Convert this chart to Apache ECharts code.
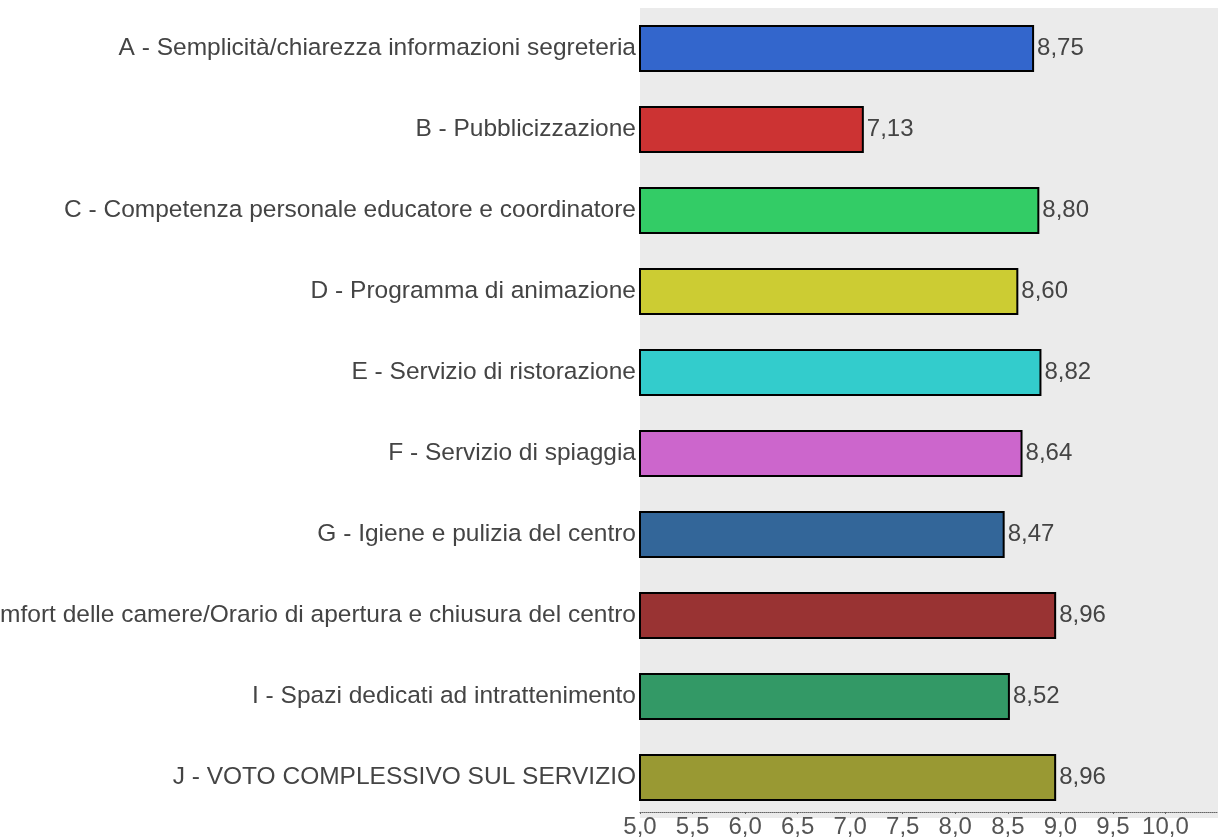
<!DOCTYPE html>
<html lang="it" style="height: 100%">
<head>
  <meta charset="utf-8">
</head>
<body style="height: 100%; margin: 0; background: #fff">
  <div id="container" style="width: 1218px; height: 840px"></div>

  <script type="text/javascript" src="https://cdn.jsdelivr.net/npm/echarts@6/dist/echarts.min.js"></script>
  <script type="text/javascript">
    // dati
    var categories = [
      'A - Semplicità/chiarezza informazioni segreteria',
      'B - Pubblicizzazione',
      'C - Competenza personale educatore e coordinatore',
      'D - Programma di animazione',
      'E - Servizio di ristorazione',
      'F - Servizio di spiaggia',
      'G - Igiene e pulizia del centro',
      'H - Comfort delle camere/Orario di apertura e chiusura del centro',
      'I - Spazi dedicati ad intrattenimento',
      'J - VOTO COMPLESSIVO SUL SERVIZIO'
    ];
    var values = [8.75, 7.13, 8.80, 8.60, 8.82, 8.64, 8.47, 8.96, 8.52, 8.96];
    var colors = ['#3366cc', '#cc3333', '#33cc66', '#cccc33', '#33cccc',
                  '#cc66cc', '#336699', '#993333', '#339966', '#999933'];

    var dom = document.getElementById('container');
    var myChart = echarts.init(dom, null, { renderer: 'canvas' });

    var option = {
      animation: false,
      textStyle: { fontFamily: 'Liberation Sans, Arial, sans-serif' },
      grid: {
        left: 640,
        right: 0,
        top: 8,
        bottom: 22,
        containLabel: false,
        outerBoundsMode: 'none',   // la label H esce a sinistra, come nell'originale
        show: true,
        backgroundColor: '#ebebeb',
        borderWidth: 0
      },
      xAxis: {
        type: 'value',
        min: 5,
        max: 10.5,
        interval: 0.5,
        offset: -6,
        axisLine: { show: true, lineStyle: { color: '#666', type: 'dotted', width: 1 } },
        axisTick: { show: true, length: 2, lineStyle: { color: '#666' } },
        splitLine: { show: false },
        axisLabel: {
          color: '#555',
          fontSize: 24,
          margin: 3,
          formatter: function (v) {
            if (v > 10.01) return '';
            return v.toFixed(1).replace('.', ',');
          }
        }
      },
      yAxis: {
        type: 'category',
        inverse: true,
        data: categories,
        axisLine: { show: false },
        axisTick: { show: false },
        axisLabel: { color: '#444', fontSize: 24.5, margin: 4 }
      },
      series: [
        {
          type: 'bar',
          barCategoryGap: '42%',
          data: values.map(function (v, i) {
            return { value: v, itemStyle: { color: colors[i] } };
          }),
          itemStyle: { borderColor: '#000', borderWidth: 2 },
          label: {
            show: true,
            position: 'right',
            distance: 3,
            color: '#444',
            fontSize: 24,
            formatter: function (p) { return p.value.toFixed(2).replace('.', ','); }
          }
        }
      ]
    };

    myChart.setOption(option);
    window.addEventListener('resize', myChart.resize);
  </script>
</body>
</html>
